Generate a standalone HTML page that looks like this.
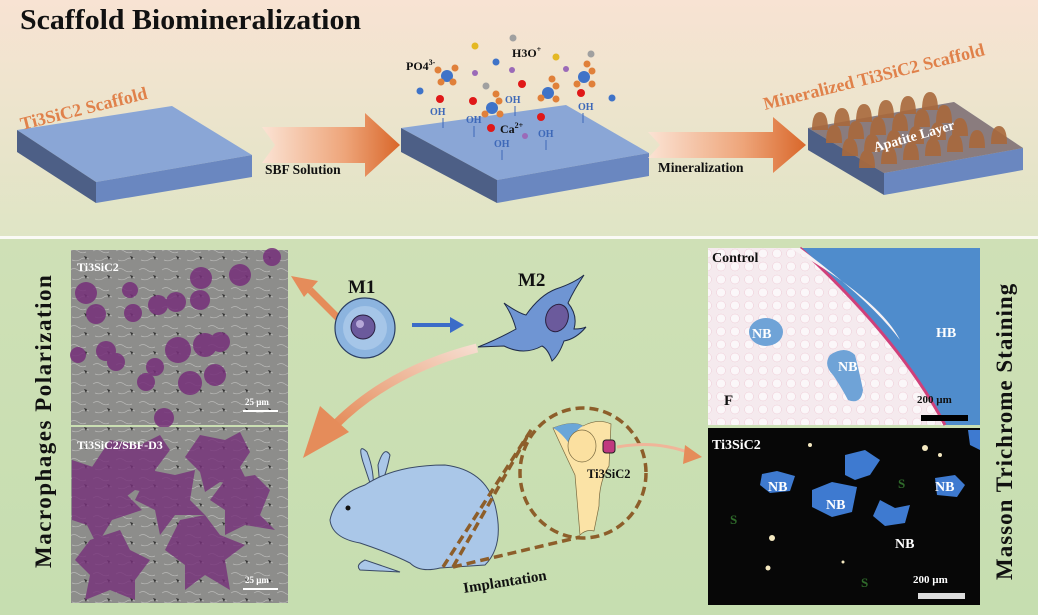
<!DOCTYPE html>
<html><head><meta charset="utf-8"><style>
html,body{margin:0;padding:0;background:#fff}
svg{display:block}
text{font-family:"Liberation Serif",serif;font-weight:bold}
</style></head><body>
<svg width="1038" height="615" viewBox="0 0 1038 615" xmlns="http://www.w3.org/2000/svg">
<defs>
<linearGradient id="bgTop" x1="0" y1="0" x2="0" y2="1">
<stop offset="0" stop-color="#f8e3d3"/><stop offset="1" stop-color="#dfe5c5"/></linearGradient>
<linearGradient id="bgBot" x1="0" y1="0" x2="0" y2="1">
<stop offset="0" stop-color="#cfe0b6"/><stop offset="1" stop-color="#c6deb0"/></linearGradient>
<linearGradient id="arr" x1="0" y1="0" x2="1" y2="0">
<stop offset="0" stop-color="#fbe3d4"/><stop offset="0.6" stop-color="#eea57a"/><stop offset="1" stop-color="#d9672a"/></linearGradient>
<linearGradient id="curv" x1="1" y1="0" x2="0" y2="1">
<stop offset="0" stop-color="#f6ddd0"/><stop offset="1" stop-color="#e58c5a"/></linearGradient>
<pattern id="sem" width="23" height="19" patternUnits="userSpaceOnUse">
<rect width="23" height="19" fill="#8d8d8b"/><path d="M1 4q4-3 8 0t8 1M3 13q5 2 9-1q3-2 8 0" stroke="#b9b9b7" stroke-width="0.7" fill="none"/><path d="M15 9l3 1-1 3z" fill="#333"/></pattern>
<pattern id="fat" width="14" height="13" patternUnits="userSpaceOnUse">
<rect width="14" height="13" fill="#f5eaee"/><circle cx="7" cy="6.5" r="4.5" fill="#fbf7f9" stroke="#efcbd6" stroke-width="0.5"/></pattern>
</defs>

<rect x="0" y="0" width="1038" height="236" fill="url(#bgTop)"/>
<rect x="0" y="236" width="1038" height="3" fill="#fafaf5"/>
<rect x="0" y="239" width="1038" height="376" fill="url(#bgBot)"/>

<text x="20" y="29" font-size="28" fill="#111" textLength="341" lengthAdjust="spacingAndGlyphs">Scaffold Biomineralization</text>

<!-- slab 1 -->
<polygon points="17,130 172,106 252,155 96,182" fill="#8aa6d6"/>
<polygon points="17,130 96,182 96,203 17,152" fill="#4d5f86"/>
<polygon points="96,182 252,155 252,177 96,203" fill="#6a87c0"/>
<text font-size="18" fill="#e0814a" transform="translate(22,130) rotate(-14)">Ti3SiC2 Scaffold</text>

<polygon points="262,127 365,127 365,113 400,145 365,177 365,163 262,163 275,145" fill="url(#arr)"/>
<text x="265" y="174" font-size="13.5" fill="#111">SBF Solution</text>

<!-- slab 2 -->
<polygon points="401,128 566,105 649,153 497,180" fill="#8aa6d6"/>
<polygon points="401,128 497,180 497,203 401,152" fill="#4d5f86"/>
<polygon points="497,180 649,153 649,176 497,203" fill="#6a87c0"/>
<g font-size="10" fill="#3d68b8" font-weight="normal">
<text x="430" y="115">OH</text><line x1="443" y1="118" x2="443" y2="128" stroke="#3d68b8"/>
<text x="466" y="123">OH</text><line x1="474" y1="126" x2="474" y2="137" stroke="#3d68b8"/>
<text x="505" y="103">OH</text><line x1="515" y1="106" x2="515" y2="116" stroke="#3d68b8"/>
<text x="538" y="137">OH</text><line x1="546" y1="140" x2="546" y2="150" stroke="#3d68b8"/>
<text x="578" y="110">OH</text><line x1="583" y1="113" x2="583" y2="123" stroke="#3d68b8"/>
<text x="494" y="147">OH</text><line x1="502" y1="150" x2="502" y2="160" stroke="#3d68b8"/>
</g>
<text x="406" y="70" font-size="12" fill="#111">PO4<tspan dy="-5" font-size="8">3-</tspan></text>
<text x="512" y="57" font-size="12" fill="#111">H3O<tspan dy="-5" font-size="8">+</tspan></text>
<text x="500" y="133" font-size="12" fill="#111">Ca<tspan dy="-5" font-size="8">2+</tspan></text>
<g>
<circle cx="447" cy="76" r="6" fill="#3f73c8"/><circle cx="455" cy="68" r="3.5" fill="#e0803a"/><circle cx="441" cy="82" r="3.5" fill="#e0803a"/><circle cx="453" cy="82" r="3.5" fill="#e0803a"/><circle cx="438" cy="70" r="3.5" fill="#e0803a"/>
<circle cx="548" cy="93" r="6" fill="#3f73c8"/><circle cx="556" cy="86" r="3.5" fill="#e0803a"/><circle cx="541" cy="98" r="3.5" fill="#e0803a"/><circle cx="556" cy="99" r="3.5" fill="#e0803a"/><circle cx="552" cy="79" r="3.5" fill="#e0803a"/>
<circle cx="584" cy="77" r="6" fill="#3f73c8"/><circle cx="592" cy="71" r="3.5" fill="#e0803a"/><circle cx="577" cy="84" r="3.5" fill="#e0803a"/><circle cx="592" cy="84" r="3.5" fill="#e0803a"/><circle cx="587" cy="64" r="3.5" fill="#e0803a"/>
<circle cx="492" cy="108" r="6" fill="#3f73c8"/><circle cx="499" cy="101" r="3.5" fill="#e0803a"/><circle cx="485" cy="114" r="3.5" fill="#e0803a"/><circle cx="500" cy="114" r="3.5" fill="#e0803a"/><circle cx="496" cy="94" r="3.5" fill="#e0803a"/>
<circle cx="475" cy="46" r="3.5" fill="#e4b823"/><circle cx="513" cy="38" r="3.5" fill="#a0a0a0"/><circle cx="556" cy="57" r="3.5" fill="#e4b823"/><circle cx="591" cy="54" r="3.5" fill="#a0a0a0"/>
<circle cx="496" cy="62" r="3.5" fill="#3f73c8"/><circle cx="420" cy="91" r="3.5" fill="#3f73c8"/><circle cx="612" cy="98" r="3.5" fill="#3f73c8"/><circle cx="486" cy="86" r="3.5" fill="#a0a0a0"/>
<circle cx="440" cy="99" r="4" fill="#e01818"/><circle cx="473" cy="101" r="4" fill="#e01818"/><circle cx="522" cy="84" r="4" fill="#e01818"/><circle cx="581" cy="93" r="4" fill="#e01818"/><circle cx="541" cy="117" r="4" fill="#e01818"/><circle cx="491" cy="128" r="4" fill="#e01818"/>
<circle cx="475" cy="73" r="3" fill="#9b6ab8"/><circle cx="512" cy="70" r="3" fill="#9b6ab8"/><circle cx="566" cy="69" r="3" fill="#9b6ab8"/><circle cx="525" cy="136" r="3" fill="#9b6ab8"/>
</g>

<polygon points="648,132 773,132 773,117 806,145 773,173 773,158 648,158 660,145" fill="url(#arr)"/>
<text x="658" y="172" font-size="13.5" fill="#111">Mineralization</text>

<!-- slab 3 -->
<polygon points="808,128 954,102 1023,148 884,173" fill="#8aa6d6"/>
<polygon points="808,128 884,173 884,195 808,150" fill="#4d5f86"/>
<polygon points="884,173 1023,148 1023,170 884,195" fill="#6a87c0"/>
<polygon points="808,128 954,102 1023,148 884,173" fill="#8b5a36" opacity="0.55"/>
<g fill="#a9693c" opacity="0.9">
<path d="M812,130 q0,-18 8,-18 q8,0 8,18z"/><path d="M834,126 q0,-18 8,-18 q8,0 8,18z"/><path d="M856,122 q0,-18 8,-18 q8,0 8,18z"/><path d="M878,118 q0,-18 8,-18 q8,0 8,18z"/><path d="M900,114 q0,-18 8,-18 q8,0 8,18z"/><path d="M922,110 q0,-18 8,-18 q8,0 8,18z"/>
<path d="M826,143 q0,-18 8,-18 q8,0 8,18z"/><path d="M848,139 q0,-18 8,-18 q8,0 8,18z"/><path d="M870,135 q0,-18 8,-18 q8,0 8,18z"/><path d="M892,131 q0,-18 8,-18 q8,0 8,18z"/><path d="M914,127 q0,-18 8,-18 q8,0 8,18z"/><path d="M936,123 q0,-18 8,-18 q8,0 8,18z"/>
<path d="M842,156 q0,-18 8,-18 q8,0 8,18z"/><path d="M864,152 q0,-18 8,-18 q8,0 8,18z"/><path d="M886,148 q0,-18 8,-18 q8,0 8,18z"/><path d="M908,144 q0,-18 8,-18 q8,0 8,18z"/><path d="M930,140 q0,-18 8,-18 q8,0 8,18z"/><path d="M952,136 q0,-18 8,-18 q8,0 8,18z"/>
<path d="M859,168 q0,-18 8,-18 q8,0 8,18z"/><path d="M881,164 q0,-18 8,-18 q8,0 8,18z"/><path d="M903,160 q0,-18 8,-18 q8,0 8,18z"/><path d="M925,156 q0,-18 8,-18 q8,0 8,18z"/><path d="M947,152 q0,-18 8,-18 q8,0 8,18z"/><path d="M969,148 q0,-18 8,-18 q8,0 8,18z"/><path d="M991,144 q0,-18 8,-18 q8,0 8,18z"/>
</g>
<text font-size="14" fill="#fff" transform="translate(875,152) rotate(-16)">Apatite Layer</text>
<text font-size="18" fill="#e0814a" transform="translate(765,110) rotate(-14)">Mineralized Ti3SiC2 Scaffold</text>

<!-- BOTTOM -->
<text font-size="23" fill="#111" transform="translate(51,568) rotate(-90)" letter-spacing="1.5">Macrophages Polarization</text>
<text font-size="23" fill="#111" transform="translate(1012,580) rotate(-90)" letter-spacing="1">Masson Trichrome Staining</text>

<rect x="71" y="250" width="217" height="175" fill="url(#sem)"/>
<g fill="#76307a" opacity="0.85">
<circle cx="86" cy="293" r="11"/><circle cx="96" cy="314" r="10"/><circle cx="130" cy="290" r="8"/><circle cx="133" cy="313" r="9"/>
<circle cx="158" cy="305" r="10"/><circle cx="176" cy="302" r="10"/><circle cx="200" cy="300" r="10"/><circle cx="201" cy="278" r="11"/>
<circle cx="240" cy="275" r="11"/><circle cx="272" cy="257" r="9"/><circle cx="78" cy="355" r="8"/><circle cx="106" cy="351" r="10"/>
<circle cx="116" cy="362" r="9"/><circle cx="178" cy="350" r="13"/><circle cx="205" cy="345" r="12"/><circle cx="220" cy="342" r="10"/>
<circle cx="155" cy="367" r="9"/><circle cx="146" cy="382" r="9"/><circle cx="190" cy="383" r="12"/><circle cx="215" cy="375" r="11"/>
<circle cx="164" cy="418" r="10"/>
</g>
<text x="77" y="271" font-size="12" fill="#fff">Ti3SiC2</text>
<text x="245" y="405" font-size="9" fill="#fff">25 µm</text><rect x="243" y="410" width="35" height="2" fill="#fff"/>
<rect x="71" y="427" width="217" height="176" fill="url(#sem)"/>
<g fill="#76307a" opacity="0.8">
<path d="M110,440 l30,5 20,-10 10,15 -15,20 5,25 -25,-5 -20,15 -5,-25 -20,-10z"/>
<path d="M200,435 l25,5 15,-8 10,20 -10,15 10,20 -30,-5 -15,10 -5,-20 -15,-15z"/>
<path d="M72,460 l30,10 25,-5 -5,25 20,20 -30,10 -15,25 -10,-20 -15,-5z"/>
<path d="M150,470 l25,5 20,-5 -5,30 15,15 -30,0 -15,20 -5,-25 -20,-10z"/>
<path d="M225,480 l30,-5 15,15 -10,25 15,15 -30,-5 -20,10 0,-25 -15,-10z"/>
<path d="M180,520 l25,-5 15,20 25,10 -20,15 5,30 -25,-15 -20,15 0,-25 -20,-15z"/>
<path d="M90,540 l30,-10 10,20 20,10 -15,20 0,20 -25,-10 -25,10 5,-25 -15,-15z"/>
</g>
<text x="77" y="449" font-size="12" fill="#fff">Ti3SiC2/SBF-D3</text>
<text x="245" y="583" font-size="9" fill="#fff">25 µm</text><rect x="243" y="588" width="35" height="2" fill="#fff"/>

<!-- M1 / M2 -->
<path d="M338,318 L310,290" stroke="#e58c5a" stroke-width="7" fill="none"/>
<polygon points="291,276 318,281 304,297" fill="#e58c5a"/>
<text x="348" y="293" font-size="19" fill="#111">M1</text>
<ellipse cx="365" cy="328" rx="30" ry="30" fill="#8cb4df" stroke="#2a3e63" stroke-width="1.2"/>
<ellipse cx="365" cy="328" rx="22" ry="22" fill="#a6c6e8"/>
<circle cx="363" cy="327" r="12" fill="#6b5a9c" stroke="#2a2040"/>
<circle cx="360" cy="324" r="4" fill="#b6a8d8"/>
<line x1="412" y1="325" x2="452" y2="325" stroke="#3b6cc8" stroke-width="4"/>
<polygon points="450,317 464,325 450,333" fill="#3b6cc8"/>
<text x="518" y="286" font-size="19" fill="#111">M2</text>
<path d="M478,347 q20,-8 38,-18 q-4,-15 -12,-26 q14,10 22,12 q14,-20 30,-26 q18,-6 28,-14 q-10,15 -16,28 q10,12 6,26 q8,0 12,-2 q-10,12 -22,14 q-5,14 -12,20 q-4,-12 -10,-15 q-18,10 -38,0z" fill="#6f95d3" stroke="#1f2b48" stroke-width="1"/>
<ellipse cx="557" cy="318" rx="11" ry="14" fill="#6b5a9c" stroke="#2a2040" transform="rotate(20 557 318)"/>

<path d="M477,348 Q390,370 335,425" stroke="url(#curv)" stroke-width="9" fill="none"/>
<polygon points="303,458 320,406 349,432" fill="#e58c5a"/>

<!-- rabbit -->
<g fill="#aac7e8" stroke="#3a4a66" stroke-width="1">
<path d="M363,462 q-6,-20 4,-10 q8,20 6,40z"/>
<path d="M378,465 q6,-20 12,-10 q-4,20 -10,32z"/>
<path d="M330,520 q5,-25 35,-35 q30,-20 80,-20 q40,5 50,40 q10,40 -10,60 l-45,3 q-20,5 -30,-5 q-20,-10 -50,-20 q-28,-5 -30,-23z"/>
<path d="M365,560 q-10,5 -5,10 l40,2 z"/>
</g>
<circle cx="348" cy="508" r="2.5" fill="#111"/>

<ellipse cx="583" cy="473" rx="63" ry="65" fill="none" stroke="#8d5e2a" stroke-width="3.5" stroke-dasharray="9,5"/>
<path d="M443,567 L533,427 M453,567 L527,437 M453,567 L580,537" stroke="#8d5e2a" stroke-width="3.5" stroke-dasharray="9,5" fill="none"/>
<path d="M553,428 q20,-8 30,-2 q15,-8 28,-2 l-2,42 q-10,15 -10,40 l-5,25 q-8,-2 -14,4 l-5,-60 q-12,-25 -22,-47z" fill="#fbe3a6" stroke="#7a6a40" stroke-width="0.7"/>
<path d="M553,428 q20,-8 30,-2 q-10,5 -12,20 q-10,-14 -18,-18z" fill="#6aa6d8"/>
<ellipse cx="582" cy="446" rx="14" ry="16" fill="#fbe0a0" stroke="#7a6a40" stroke-width="0.7"/>
<rect x="603" y="440" width="12" height="13" rx="3" fill="#c0387f" stroke="#222"/>
<text x="587" y="478" font-size="12.5" fill="#111" font-weight="normal">Ti3SiC2</text>
<path d="M617,447 Q655,440 690,453" stroke="#f0b599" stroke-width="3" fill="none"/>
<polygon points="702,457 685,445 683,464" fill="#e58c5a"/>
<text font-size="15" fill="#111" transform="translate(464,593) rotate(-9)">Implantation</text>

<!-- Control histology -->
<rect x="708" y="248" width="272" height="177" fill="url(#fat)"/>
<path d="M800,248 Q900,340 945,425 L980,425 L980,248z" fill="#4f8ccc"/>
<path d="M800,248 Q900,340 945,425" stroke="#d0407a" stroke-width="3" fill="none"/>
<path d="M800,248 Q870,300 900,340 Q880,300 790,248z" fill="#f8f2f4"/>
<ellipse cx="766" cy="332" rx="17" ry="14" fill="#6fa3d7"/>
<path d="M830,355 q15,-10 25,0 q5,20 8,35 q-2,15 -15,10 q-8,-15 -15,-25 q-10,-10 -3,-20z" fill="#6fa3d7"/>
<text x="712" y="262" font-size="14" fill="#111">Control</text>
<text x="752" y="338" font-size="14" fill="#fff" font-weight="normal">NB</text>
<text x="838" y="371" font-size="14" fill="#fff" font-weight="normal">NB</text>
<text x="936" y="337" font-size="14" fill="#fff" font-weight="normal">HB</text>
<text x="724" y="405" font-size="15" fill="#111">F</text>
<text x="917" y="403" font-size="11" fill="#111">200 µm</text>
<rect x="921" y="415" width="47" height="6" fill="#000"/>

<rect x="708" y="428" width="272" height="177" fill="#070707"/>
<g fill="#3e7ad0">
<path d="M845,455 l20,-5 15,10 -10,15 -15,5 -10,-5z"/>
<path d="M762,474 l15,-3 18,5 -5,15 -20,2 -10,-8z"/>
<path d="M812,490 l20,-8 25,5 -5,25 -20,5 -20,-10z"/>
<path d="M880,500 l15,8 15,-3 -5,18 -20,3 -12,-10z"/>
<path d="M935,478 l20,-3 10,10 -8,12 -20,-2z"/>
<path d="M968,430 l12,0 0,20 -10,-5z"/>
</g>
<g fill="#f4e8c0"><circle cx="810" cy="445" r="2"/><circle cx="925" cy="448" r="3"/><circle cx="940" cy="455" r="2"/><circle cx="772" cy="538" r="3"/><circle cx="768" cy="568" r="2.5"/><circle cx="843" cy="562" r="1.5"/></g>
<text x="712" y="449" font-size="14" fill="#fff" font-weight="normal">Ti3SiC2</text>
<text x="768" y="491" font-size="14" fill="#fff">NB</text>
<text x="826" y="509" font-size="14" fill="#fff">NB</text>
<text x="935" y="491" font-size="14" fill="#fff">NB</text>
<text x="895" y="548" font-size="14" fill="#fff">NB</text>
<text x="898" y="488" font-size="13" fill="#2f6a2a" font-weight="normal">S</text>
<text x="730" y="524" font-size="13" fill="#2f6a2a" font-weight="normal">S</text>
<text x="861" y="587" font-size="13" fill="#2f6a2a" font-weight="normal">S</text>
<text x="913" y="583" font-size="11" fill="#fff">200 µm</text>
<rect x="918" y="593" width="47" height="6" fill="#ddd"/>
</svg>
</body></html>
